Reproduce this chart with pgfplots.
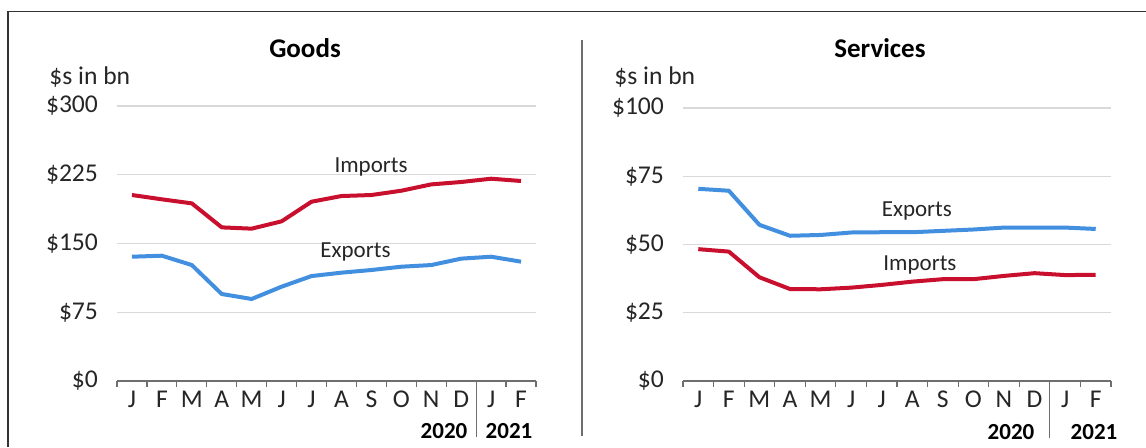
\documentclass[border=0pt]{standalone}
\usepackage{fontspec}
\setmainfont{Carlito}
\usepackage{pgfplots}
\pgfplotsset{compat=1.18}
\definecolor{impred}{RGB}{200,16,46}
\definecolor{expblue}{RGB}{65,143,222}
\definecolor{gridgray}{RGB}{217,217,217}
\definecolor{axgray}{RGB}{110,110,110}
\newcommand{\lf}{\fontsize{11.5}{13.8}\selectfont}
\newcommand{\tf}{\fontsize{12.8}{15}\selectfont}
\pgfplotsset{mystyle/.style={
  scale only axis,
  xmin=0.5, xmax=14.5, ymin=0,
  axis x line*=bottom, axis y line*=left,
  y axis line style={draw=none},
  x axis line style={axgray, line width=0.6pt},
  ytick style={draw=none},
  ymajorgrids, grid style={gridgray, line width=0.6pt},
  xtick={1,...,14},
  xticklabels={J,F,M,A,M,J,J,A,S,O,N,D,J,F},
  minor xtick={0.5,1.5,...,14.5},
  tick align=outside,
  major tick length=0pt,
  minor tick length=3pt,
  minor x tick style={axgray, line width=0.6pt},
  major x tick style={draw=none},
  tick label style={font=\tf, text=black!85},
  xticklabel style={yshift=-1.5pt},
  yticklabel style={xshift=-6pt},
  clip=false,
  every axis plot/.append style={line width=2pt, line join=round, mark=none},
}}
\begin{document}
\begin{tikzpicture}
\useasboundingbox (0,0) rectangle (573pt,-223.5pt);
% frame
\draw[line width=0.75pt, black!80] (4pt,-223.5pt) -- (4pt,-5.75pt) -- (573pt,-5.75pt);
% divider
\draw[axgray, line width=0.6pt] (291pt,-20pt) -- (291pt,-218pt);

% Goods
\begin{axis}[mystyle, at={(58.5pt,-190.5pt)}, anchor=south west,
  width=209.5pt, height=137.5pt, ymax=300,
  ytick={0,75,150,225,300},
  yticklabels={\$0,\$75,\$150,\$225,\$300}]
\addplot[impred] coordinates {(1,202.9)(2,198.2)(3,193.8)(4,167.6)(5,166.2)(6,174.2)(7,195.6)(8,201.8)(9,202.9)(10,207.6)(11,214.5)(12,217.1)(13,220.7)(14,218.2)};
\addplot[expblue] coordinates {(1,135.6)(2,136.7)(3,126.5)(4,94.9)(5,89.5)(6,102.9)(7,114.5)(8,118.2)(9,121.1)(10,124.7)(11,126.5)(12,133.5)(13,135.6)(14,130.2)};
\node[font=\lf, text=black!85] at (axis cs:8.99,233.5) {Imports};
\node[font=\lf, text=black!85] at (axis cs:8.47,140.7) {Exports};
\draw[axgray, line width=0.6pt] (axis cs:12.5,0) -- ++(0pt,-28pt);
\end{axis}

% Services
\begin{axis}[mystyle, at={(341.5pt,-190.5pt)}, anchor=south west,
  width=214pt, height=136.5pt, ymax=100,
  ytick={0,25,50,75,100},
  yticklabels={\$0,\$25,\$50,\$75,\$100}]
\addplot[expblue] coordinates {(1,70.4)(2,69.7)(3,57.2)(4,53.2)(5,53.5)(6,54.4)(7,54.5)(8,54.5)(9,55.0)(10,55.5)(11,56.2)(12,56.2)(13,56.2)(14,55.7)};
\addplot[impred] coordinates {(1,48.3)(2,47.4)(3,38.0)(4,33.7)(5,33.6)(6,34.2)(7,35.2)(8,36.4)(9,37.3)(10,37.3)(11,38.5)(12,39.5)(13,38.8)(14,38.9)};
\node[font=\lf, text=black!85] at (axis cs:8.15,62.3) {Exports};
\node[font=\lf, text=black!85] at (axis cs:8.25,42.5) {Imports};
\draw[axgray, line width=0.6pt] (axis cs:12.5,0) -- ++(0pt,-28.5pt);
\end{axis}

% titles and labels
\node[font=\fontsize{13.5}{16}\selectfont\bfseries] at (152.5pt,-24pt) {Goods};
\node[font=\fontsize{13.5}{16}\selectfont\bfseries] at (440pt,-24pt) {Services};
\node[font=\tf, text=black!85, anchor=west, inner sep=0pt] at (24.5pt,-38.5pt) {\$s in bn};
\node[font=\tf, text=black!85, anchor=west, inner sep=0pt] at (307pt,-38.5pt) {\$s in bn};
\node[font=\lf\bfseries] at (222pt,-215.5pt) {2020};
\node[font=\lf\bfseries] at (254.5pt,-215.5pt) {2021};
\node[font=\lf\bfseries] at (505.5pt,-216pt) {2020};
\node[font=\lf\bfseries] at (547pt,-216pt) {2021};
\end{tikzpicture}
\end{document}
